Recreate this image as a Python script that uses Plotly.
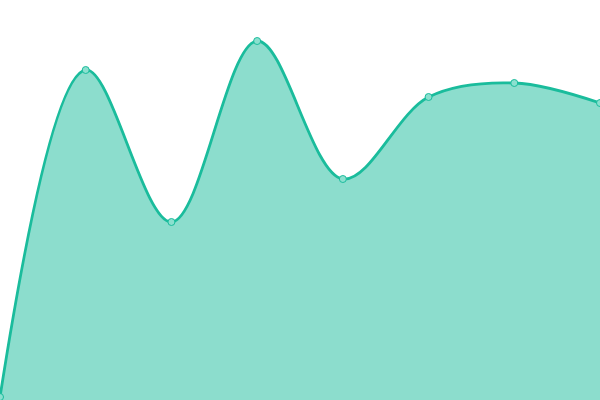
import plotly.graph_objects as go

x_vals = [0, 1, 2, 3, 4, 5, 6, 7]
y_vals = [3, 330, 178, 359, 221, 303, 317, 297]

line_color = "#1abc9c"
fill_color = "rgba(26,188,156,0.5)"

fig = go.Figure(
    data=go.Scatter(
        x=x_vals,
        y=y_vals,
        mode="lines+markers",
        line=dict(color=line_color, width=2.8, shape="spline", smoothing=1),
        marker=dict(size=7, color="#8be0cf", line=dict(color=line_color, width=1)),
        fill="tozeroy",
        fillcolor=fill_color,
        hoverinfo="x+y",
        cliponaxis=False,
    )
)

fig.update_layout(
    width=600,
    height=400,
    margin=dict(l=0, r=0, t=0, b=0),
    paper_bgcolor="white",
    plot_bgcolor="white",
    showlegend=False,
    xaxis=dict(range=[0, 7], visible=False, fixedrange=True),
    yaxis=dict(range=[0, 400], visible=False, fixedrange=True),
)

# page body has a default 8px margin, drop it so the chart sits at 0,0
fig.write_html(
    "out.html",
    config={"displayModeBar": False},
    post_script="document.body.style.margin='0';",
)
